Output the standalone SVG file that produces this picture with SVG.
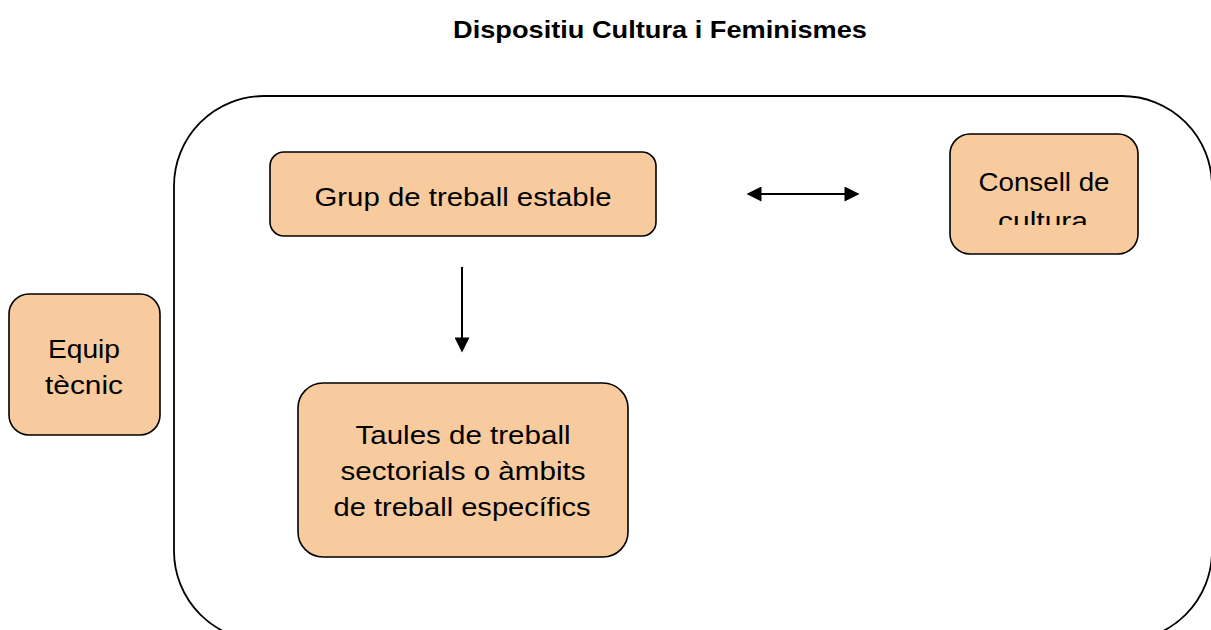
<svg xmlns="http://www.w3.org/2000/svg" width="1211" height="630" viewBox="0 0 1211 630">
<style>
.box{fill:#F8CB9E;stroke:#000;stroke-width:1.6}
.t{font-family:"Liberation Sans",Arial,sans-serif;font-size:26px;fill:#000;text-anchor:middle}
.title{font-family:"Liberation Sans",Arial,sans-serif;font-size:24px;font-weight:bold;fill:#000;text-anchor:middle}
.ln{stroke:#000;stroke-width:2;fill:none}
</style>
<defs>
<marker id="ah2" viewBox="0 0 10 10" refX="9" refY="5" markerWidth="16" markerHeight="15" markerUnits="userSpaceOnUse" orient="auto-start-reverse">
<path d="M0,0 L10,5 L0,10 z" fill="#000"/>
</marker>
<clipPath id="cc"><rect x="950" y="134" width="190" height="91"/></clipPath>
</defs>
<rect width="1211" height="630" fill="#fff"/>
<text class="title" x="660" y="38" textLength="414" lengthAdjust="spacingAndGlyphs">Dispositiu Cultura i Feminismes</text>
<g id="container"><rect x="174" y="96" width="1038" height="545" rx="90" ry="90" fill="none" stroke="#000" stroke-width="1.8"/></g>
<g id="grup"><rect class="box" x="270" y="152" width="386" height="84" rx="14"/>
<text class="t" x="463" y="206" textLength="297" lengthAdjust="spacingAndGlyphs">Grup de treball estable</text></g>
<g id="consell"><rect class="box" x="950" y="134" width="188" height="120" rx="20"/>
<text class="t" x="1044" y="191" textLength="131" lengthAdjust="spacingAndGlyphs">Consell de</text>
<text class="t" x="1043" y="230" clip-path="url(#cc)" textLength="90" lengthAdjust="spacingAndGlyphs">cultura</text></g>
<g id="equip"><rect class="box" x="9" y="294" width="151" height="141" rx="20"/>
<text class="t" x="84" y="358" textLength="72" lengthAdjust="spacingAndGlyphs">Equip</text>
<text class="t" x="84" y="394" textLength="78" lengthAdjust="spacingAndGlyphs">tècnic</text></g>
<g id="taules"><rect class="box" x="298" y="383" width="330" height="174" rx="25"/>
<text class="t" x="463" y="444" textLength="215" lengthAdjust="spacingAndGlyphs">Taules de treball</text>
<text class="t" x="463" y="480" textLength="245" lengthAdjust="spacingAndGlyphs">sectorials o àmbits</text>
<text class="t" x="462" y="516" textLength="257" lengthAdjust="spacingAndGlyphs">de treball específics</text></g>
<g id="connectors">
<line class="ln" x1="748" y1="194" x2="858" y2="194" marker-start="url(#ah2)" marker-end="url(#ah2)"/>
<line class="ln" x1="462" y1="267" x2="462" y2="351" marker-end="url(#ah2)"/>
</g>
</svg>
